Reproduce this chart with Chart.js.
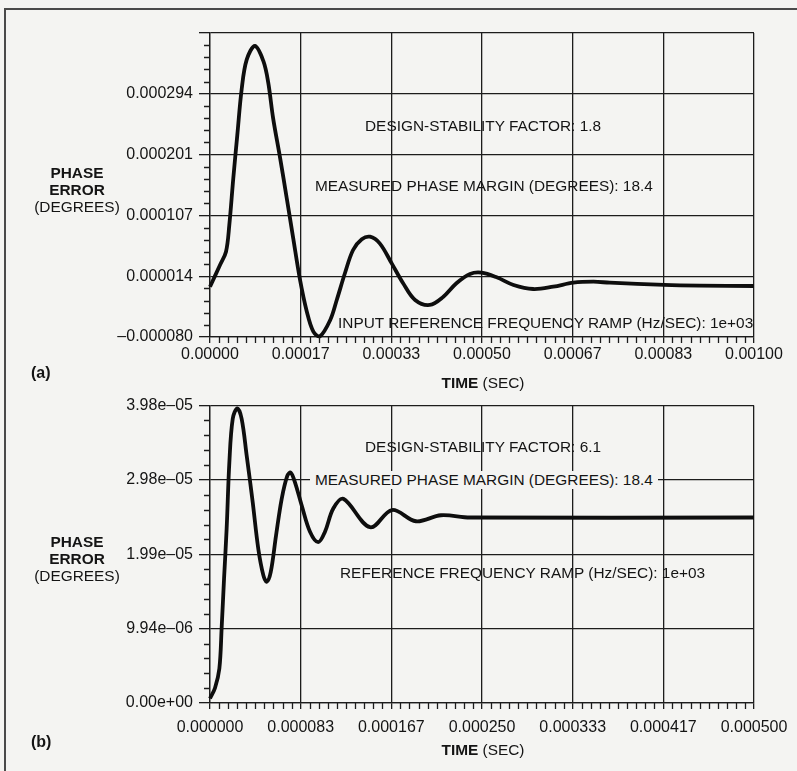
<!DOCTYPE html>
<html lang="en">
<head>
<meta charset="UTF-8">
<title>Phase error vs time</title>
<script src="https://cdn.jsdelivr.net/npm/chart.js"></script>
<style>
  body { margin: 0; background: #f4f4f2; }
  #page { position: relative; width: 797px; height: 771px; overflow: hidden;
          font-family: 'Liberation Sans', Arial, sans-serif; color: #141414; }
  #frame { position: absolute; left: 4px; top: 8px; width: 820px; height: 800px;
           border-left: 2px solid #4a4a4a; border-top: 2px solid #4a4a4a; }
  canvas { position: absolute; left: 0; }
  .t { position: absolute; font-size: 15.4px; line-height: 18px; white-space: nowrap; }
  .c { transform: translateX(-50%); text-align: center; }
  b { font-weight: bold; }
</style>
</head>
<body>
<div id="page">
  <div id="frame"></div>
  <canvas id="chartA" width="797" height="390" style="top:0"></canvas>
  <canvas id="chartB" width="797" height="381" style="top:390px"></canvas>

  <!-- chart (a) texts -->
  <div class="t c" style="left:77px; top:164px; line-height:17px"><b>PHASE<br>ERROR</b><br>(DEGREES)</div>
  <div class="t" style="left:31px; top:364px; font-size:16px"><b>(a)</b></div>
  <div class="t c" style="left:483px; top:374px"><b>TIME</b> (SEC)</div>
  <div class="t" style="left:365px; top:117px">DESIGN-STABILITY FACTOR: 1.8</div>
  <div class="t" style="left:315px; top:177px">MEASURED PHASE MARGIN (DEGREES): 18.4</div>
  <div class="t" style="left:338px; top:314px">INPUT REFERENCE FREQUENCY RAMP (Hz/SEC): 1e+03</div>

  <!-- chart (b) texts -->
  <div class="t c" style="left:77px; top:533px; line-height:17px"><b>PHASE<br>ERROR</b><br>(DEGREES)</div>
  <div class="t" style="left:31px; top:733px; font-size:16px"><b>(b)</b></div>
  <div class="t c" style="left:483px; top:741px"><b>TIME</b> (SEC)</div>
  <div class="t" style="left:365px; top:438px">DESIGN-STABILITY FACTOR: 6.1</div>
  <div class="t" style="left:310px; top:471px; background:#f4f4f2; padding:0 5px">MEASURED PHASE MARGIN (DEGREES): 18.4</div>
  <div class="t" style="left:340px; top:564px">REFERENCE FREQUENCY RAMP (Hz/SEC): 1e+03</div>
</div>

<script>
// chart (a): design-stability factor 1.8
var timeA = [0, 1.84e-5, 2.94e-5, 3.55e-5, 4.28e-5, 5.02e-5, 5.83e-5, 6.75e-5, 8.27e-5, 9.8e-5,
             1.07e-4, 1.16e-4, 1.29e-4, 1.41e-4, 1.53e-4, 1.65e-4, 1.78e-4, 1.90e-4, 2.02e-4, 2.21e-4,
             2.33e-4, 2.48e-4, 2.63e-4, 2.79e-4, 2.94e-4, 3.12e-4, 3.34e-4, 3.55e-4, 3.77e-4, 4.04e-4,
             4.29e-4, 4.53e-4, 4.78e-4, 4.99e-4, 5.27e-4, 5.58e-4, 5.94e-4, 6.31e-4, 6.68e-4, 7.05e-4,
             7.35e-4, 8.35e-4, 9.0e-4, 1.0e-3];
var phaseA = [-2.6e-6, 3.08e-5, 5.13e-5, 9.24e-5, 1.643e-4, 2.31e-4, 3.02e-4, 3.47e-4, 3.68e-4, 3.45e-4,
              3.12e-4, 2.57e-4, 1.95e-4, 1.34e-4, 7.19e-5, 1.04e-5, -4.1e-5, -7.18e-5, -7.9e-5, -5.38e-5,
              -2.3e-5, 1.81e-5, 5.39e-5, 7.04e-5, 7.44e-5, 6.42e-5, 3.34e-5, 2.7e-6, -2.3e-5, -3.07e-5,
              -1.8e-5, 2.7e-6, 1.7e-5, 1.9e-5, 1.19e-5, 1e-7, -6.1e-6, -2.6e-6, 3.6e-6, 5.1e-6,
              3.6e-6, 1e-7, -1.0e-6, -1.5e-6];
var xTicksA = [0, 0.001 / 6, 0.002 / 6, 0.003 / 6, 0.004 / 6, 0.005 / 6, 0.001];
var xLabelsA = ['0.00000', '0.00017', '0.00033', '0.00050', '0.00067', '0.00083', '0.00100'];
var yTicksA = [-0.00008, 0.0000136, 0.0001072, 0.0002008, 0.0002944, 0.000388];
var yLabelsA = ['\u20130.000080', '0.000014', '0.000107', '0.000201', '0.000294', ''];

// chart (b): design-stability factor 6.1
var timeB = [0, 4.6e-6, 8.6e-6, 1.07e-5, 1.29e-5, 1.53e-5, 1.78e-5, 2.09e-5, 2.51e-5, 2.91e-5,
             3.37e-5, 3.92e-5, 4.44e-5, 4.90e-5, 5.21e-5, 5.58e-5, 6.07e-5, 6.59e-5, 7.11e-5, 7.42e-5,
             7.81e-5, 8.43e-5, 9.19e-5, 9.95e-5, 1.057e-4, 1.133e-4, 1.225e-4, 1.471e-4, 1.673e-4, 1.893e-4,
             2.123e-4, 2.39e-4, 5.0e-4];
var phaseB = [6e-7, 2.0e-6, 4.6e-6, 1.0e-5, 1.66e-5, 2.33e-5, 3.22e-5, 3.80e-5, 3.94e-5, 3.80e-5,
              3.31e-5, 2.69e-5, 2.06e-5, 1.71e-5, 1.62e-5, 1.75e-5, 2.24e-5, 2.73e-5, 3.04e-5, 3.08e-5,
              2.95e-5, 2.64e-5, 2.29e-5, 2.15e-5, 2.29e-5, 2.60e-5, 2.73e-5, 2.35e-5, 2.58e-5, 2.43e-5,
              2.51e-5, 2.48e-5, 2.48e-5];
var xTicksB = [0, 0.0005 / 6, 0.001 / 6, 0.0015 / 6, 0.002 / 6, 0.0025 / 6, 0.0005];
var xLabelsB = ['0.000000', '0.000083', '0.000167', '0.000250', '0.000333', '0.000417', '0.000500'];
var yTicksB = [0, 9.94e-6, 1.988e-5, 2.982e-5, 3.976e-5];
var yLabelsB = ['0.00e+00', '9.94e\u201306', '1.99e\u201305', '2.98e\u201305', '3.98e\u201305'];

Chart.defaults.font.family = "'Liberation Sans', Arial, sans-serif";
Chart.defaults.font.size = 16;
Chart.defaults.color = '#141414';

var ink = '#1c1c1c';

// small in-between ticks on both axes
var minorTicks = {
    id: 'minorTicks',
    afterDraw: function(chart, args, opts) {
        var ctx = chart.ctx, x = chart.scales.x, y = chart.scales.y;
        ctx.save();
        ctx.strokeStyle = ink;
        ctx.lineWidth = 1.3;
        ctx.beginPath();
        var xt = x.ticks.map(t => t.value);
        for (var i = 0; i < xt.length - 1; i++) {
            for (var k = 1; k < opts.xSub; k++) {
                var px = Math.round(x.getPixelForValue(xt[i] + (xt[i + 1] - xt[i]) * k / opts.xSub)) + 0.5;
                ctx.moveTo(px, y.bottom);
                ctx.lineTo(px, y.bottom + 6);
            }
        }
        var yt = y.ticks.map(t => t.value);
        for (var i = 0; i < yt.length - 1; i++) {
            for (var k = 1; k < opts.ySub; k++) {
                var py = Math.round(y.getPixelForValue(yt[i] + (yt[i + 1] - yt[i]) * k / opts.ySub)) + 0.5;
                ctx.moveTo(x.left - 6, py);
                ctx.lineTo(x.left, py);
            }
        }
        ctx.stroke();
        ctx.restore();
    }
};

function makeChart(id, times, phases, xTicks, xLabels, yTicks, yLabels, pad, xHeight, xPad) {
    var ctx = document.getElementById(id).getContext('2d');
    return new Chart(ctx, {
        type: 'line',
        data: {
            datasets: [{
                data: times.map((t, i) => ({ x: t, y: phases[i] })),
                borderColor: '#0e0e0e',
                borderWidth: 3.8,
                pointRadius: 0,
                tension: 0.35,
                fill: false,
                clip: false
            }]
        },
        options: {
            responsive: false,
            animation: false,
            layout: { padding: pad },
            plugins: {
                legend: { display: false },
                tooltip: { enabled: false },
                minorTicks: { xSub: 10, ySub: 5 }
            },
            scales: {
                x: {
                    type: 'linear',
                    min: xTicks[0],
                    max: xTicks[xTicks.length - 1],
                    afterBuildTicks: axis => { axis.ticks = xTicks.map(v => ({ value: v })); },
                    afterFit: axis => { axis.height = xHeight; },
                    ticks: {
                        maxRotation: 0,
                        padding: xPad,
                        callback: (v, i) => xLabels[i]
                    },
                    grid: { color: ink, lineWidth: 1.3, tickLength: 6 },
                    border: { color: ink, width: 1.3 }
                },
                y: {
                    min: yTicks[0],
                    max: yTicks[yTicks.length - 1],
                    afterBuildTicks: axis => { axis.ticks = yTicks.map(v => ({ value: v })); },
                    afterFit: axis => { axis.width = 210; },
                    ticks: {
                        padding: 6,
                        callback: (v, i) => yLabels[i]
                    },
                    grid: { color: ink, lineWidth: 1.3, tickLength: 11 },
                    border: { color: ink, width: 1.3 }
                }
            }
        },
        plugins: [minorTicks]
    });
}

makeChart('chartA', timeA, phaseA, xTicksA, xLabelsA, yTicksA, yLabelsA,
          { left: 0, right: 43, top: 33, bottom: 0 }, 53, 2);
makeChart('chartB', timeB, phaseB, xTicksB, xLabelsB, yTicksB, yLabelsB,
          { left: 0, right: 43, top: 15, bottom: 0 }, 68, 9);
</script>
</body>
</html>
